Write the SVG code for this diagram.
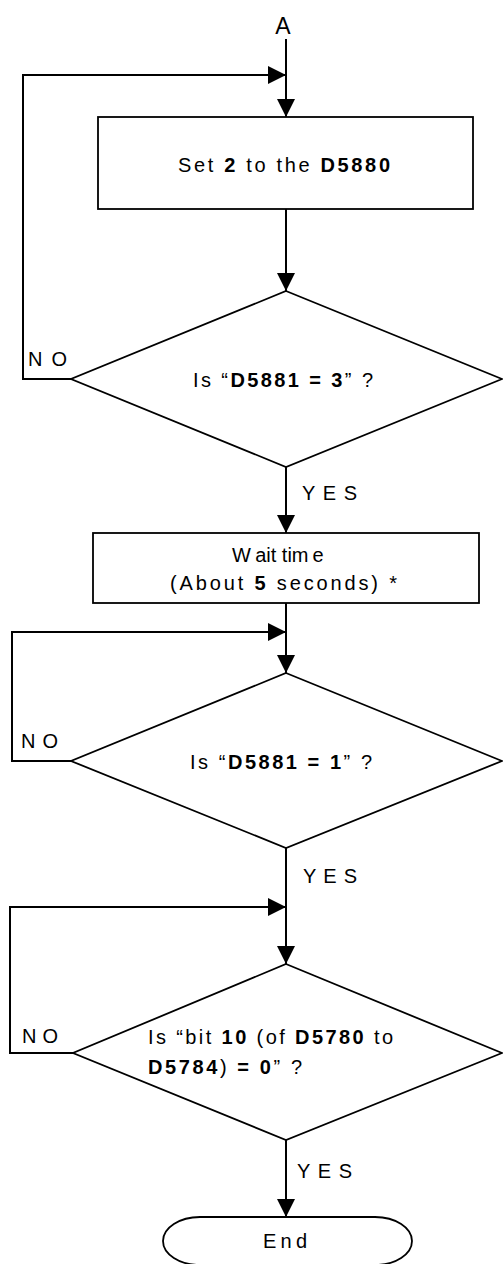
<svg xmlns="http://www.w3.org/2000/svg" width="503" height="1264" viewBox="0 0 503 1264">
<style>
.s{fill:#fff;stroke:#000;stroke-width:1.8}
.c{fill:none;stroke:#000;stroke-width:2}
text{font-family:"Liberation Sans",Arial,sans-serif;font-size:20px;fill:#000}
.b{font-weight:bold}
</style>
<defs>
<marker id="ah" viewBox="0 0 20 20" refX="20" refY="10" markerWidth="19" markerHeight="18" markerUnits="userSpaceOnUse" orient="auto">
<path d="M0,0 L20,10 L0,20 z" fill="#000"/>
</marker>
</defs>
<g id="connectors">
<path class="c" d="M286,39 V117" marker-end="url(#ah)"/>
<path class="c" d="M71,379 H23 V75 H286" marker-end="url(#ah)"/>
<path class="c" d="M286,209 V291" marker-end="url(#ah)"/>
<path class="c" d="M286,467 V533" marker-end="url(#ah)"/>
<path class="c" d="M286,603 V673" marker-end="url(#ah)"/>
<path class="c" d="M71,761 H12 V632 H286" marker-end="url(#ah)"/>
<path class="c" d="M286,848 V964" marker-end="url(#ah)"/>
<path class="c" d="M73,1053 H10 V907 H286" marker-end="url(#ah)"/>
<path class="c" d="M286,1140 V1217" marker-end="url(#ah)"/>
<text x="28" y="366" textLength="39" lengthAdjust="spacing">NO</text>
<text x="302" y="500" textLength="55" lengthAdjust="spacing">YES</text>
<text x="21" y="748" textLength="37" lengthAdjust="spacing">NO</text>
<text x="303" y="883" textLength="54" lengthAdjust="spacing">YES</text>
<text x="22" y="1043" textLength="36" lengthAdjust="spacing">NO</text>
<text x="297" y="1178" textLength="55" lengthAdjust="spacing">YES</text>
</g>
<g id="start">
<text x="283" y="34" text-anchor="middle" style="font-size:23px">A</text>
</g>
<g id="set">
<rect class="s" x="98" y="117" width="375" height="92"/>
<text x="178" y="172" textLength="212" lengthAdjust="spacing">Set <tspan class="b">2</tspan> to the <tspan class="b">D5880</tspan></text>
</g>
<g id="check3">
<polygon class="s" points="286,291 502,379 286,467 71,379"/>
<text x="193" y="387" textLength="180" lengthAdjust="spacing">Is “<tspan class="b">D5881 = 3</tspan>” ?</text>
</g>
<g id="wait">
<rect class="s" x="93" y="533" width="386" height="70"/>
<text x="232" y="562">W<tspan dx="5">ait tim</tspan><tspan dx="4">e</tspan></text>
<text x="170" y="590" textLength="227" lengthAdjust="spacing">(About <tspan class="b">5</tspan> seconds) *</text>
</g>
<g id="check1">
<polygon class="s" points="286,673 502,761 286,848 71,761"/>
<text x="190" y="769" textLength="182" lengthAdjust="spacing">Is “<tspan class="b">D5881 = 1</tspan>” ?</text>
</g>
<g id="checkbit">
<polygon class="s" points="286,964 502,1053 286,1140 73,1053"/>
<text x="148" y="1044" textLength="245" lengthAdjust="spacing">Is “bit <tspan class="b">10</tspan> (of <tspan class="b">D5780</tspan> to</text>
<text x="148" y="1074" textLength="154" lengthAdjust="spacing"><tspan class="b">D5784</tspan>) <tspan class="b">= 0</tspan>” ?</text>
</g>
<g id="end">
<path class="s" d="M200,1217 H375 A37,24 0 0 1 375,1265 H200 A37,24 0 0 1 200,1217 Z"/>
<text x="263" y="1248" textLength="44" lengthAdjust="spacing">End</text>
</g>
</svg>
